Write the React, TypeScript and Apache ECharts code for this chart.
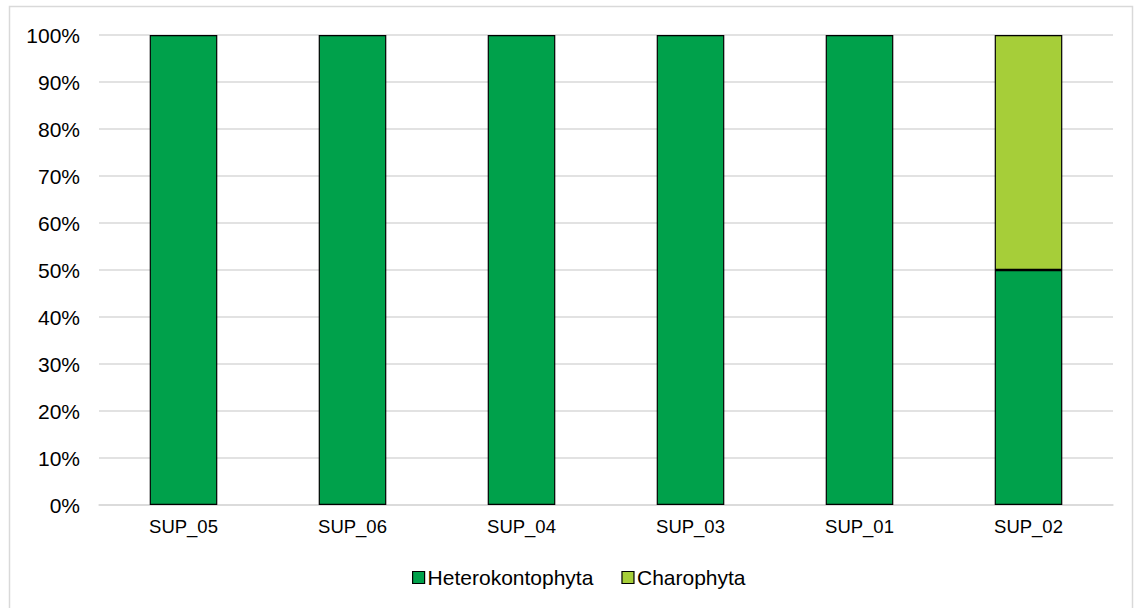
import React, { useEffect, useRef } from "react";
import * as echarts from "echarts";

const categories = ["SUP_05", "SUP_06", "SUP_04", "SUP_03", "SUP_01", "SUP_02"];
const heterokontophyta = [100, 100, 100, 100, 100, 50];
const charophyta = [0, 0, 0, 0, 0, 50];
const seriesNames = ["Heterokontophyta", "Charophyta"];

export default function App() {
  const ref = useRef<HTMLDivElement>(null);
  useEffect(() => {
    if (!ref.current) return;
    const chart = echarts.init(ref.current, undefined, { renderer: "svg" });
    const font = "Liberation Sans, Arial, sans-serif";
    chart.setOption({
      animation: false,
      backgroundColor: "#fff",
      graphic: [
        {
          type: "rect",
          shape: { x: 9.5, y: 6.5, width: 1123, height: 610 },
          style: { fill: "none", stroke: "#D9D9D9", lineWidth: 1.5 },
          silent: true,
        },
      ],
      grid: { left: 99, right: 22, top: 35, bottom: 103 },
      legend: {
        top: 562,
        left: 407,
        itemWidth: 12,
        itemHeight: 12,
        itemGap: 28,
        icon: "rect",
        textStyle: { fontFamily: font, fontSize: 21, color: "#000", padding: [0, 0, 0, -2] },
        data: seriesNames.map((n) => ({ name: n, itemStyle: { borderColor: "#000", borderWidth: 1.2 } })),
      },
      xAxis: {
        type: "category",
        data: categories,
        axisLine: { show: true, lineStyle: { color: "#D9D9D9", width: 1.5 } },
        axisTick: { show: false },
        axisLabel: { fontFamily: font, fontSize: 18.5, color: "#000", margin: 12 },
      },
      yAxis: {
        type: "value",
        min: 0,
        max: 100,
        interval: 10,
        axisLine: { show: false },
        axisTick: { show: false },
        splitLine: { lineStyle: { color: "#D9D9D9", width: 1.5 } },
        axisLabel: {
          fontFamily: font,
          fontSize: 21,
          color: "#000",
          margin: 19,
          formatter: (v: number) => v + "%",
        },
      },
      series: [
        {
          name: seriesNames[0],
          type: "bar",
          stack: "total",
          data: heterokontophyta,
          barWidth: "40%",
          itemStyle: { color: "#00A14B", borderColor: "#000", borderWidth: 1.2 },
        },
        {
          name: seriesNames[1],
          type: "bar",
          stack: "total",
          data: charophyta.map((v) => (v === 0 ? null : v)),
          barWidth: "40%",
          itemStyle: { color: "#A6CE39", borderColor: "#000", borderWidth: 1.2 },
        },
      ],
    });
    return () => chart.dispose();
  }, []);
  return (
    <div
      ref={ref}
      style={{ position: "absolute", left: 0, top: 0, width: 1135, height: 608 }}
    />
  );
}
